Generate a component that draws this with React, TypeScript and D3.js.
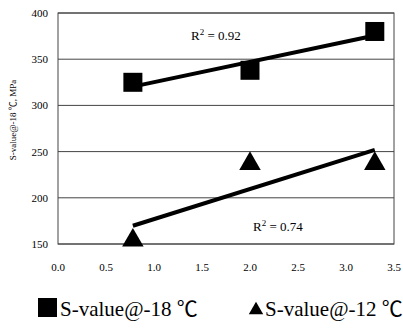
import React from 'react';
import * as d3 from 'd3';

const xValues = [0.78, 2.0, 3.3];
const s18 = [325, 338, 380];
const s12 = [155, 238, 238];
const xTicks = [0, 0.5, 1, 1.5, 2, 2.5, 3, 3.5];
const yTicks = [150, 200, 250, 300, 350, 400];

const W = 403, H = 328;
const m = { left: 58, right: 9, top: 13, bottom: 84 };
const serif = '"Liberation Serif", "Noto Sans CJK SC", serif';

function fit(xs: number[], ys: number[]) {
  const mx = d3.mean(xs)!, my = d3.mean(ys)!;
  let sxy = 0, sxx = 0;
  xs.forEach((x, i) => { sxy += (x - mx) * (ys[i] - my); sxx += (x - mx) ** 2; });
  const b = sxy / sxx;
  return (x: number) => my + b * (x - mx);
}

export default function App() {
  const x = d3.scaleLinear().domain([0, 3.5]).range([m.left, W - m.right]);
  const y = d3.scaleLinear().domain([150, 400]).range([H - m.bottom, m.top]);
  const f18 = fit(xValues, s18);
  const f12 = fit(xValues, s12);
  const x0 = d3.min(xValues)!, x1 = d3.max(xValues)!;
  const tri = d3.symbol().type(d3.symbolTriangle).size(200)()!;

  return (
    <svg width={W} height={H} style={{ position: 'absolute', left: 0, top: 0, background: '#fff' }}>
      {yTicks.map(t => (
        <g key={t}>
          <line x1={x.range()[0]} x2={x.range()[1]} y1={y(t)} y2={y(t)} stroke="#444" strokeWidth={1} />
          <text x={48} y={y(t) + 4} textAnchor="end" fontFamily={serif} fontSize={11}>{t}</text>
        </g>
      ))}
      <rect x={x.range()[0]} y={y(400)} width={x.range()[1] - x.range()[0]} height={y(150) - y(400)}
        fill="none" stroke="#444" strokeWidth={1} />
      {xTicks.map(t => (
        <text key={t} x={x(t)} y={271} textAnchor="middle" fontFamily={serif} fontSize={11}>{t.toFixed(1)}</text>
      ))}
      <text transform="translate(16,120) rotate(-90)" textAnchor="middle"
        fontFamily={serif} fontSize={9}>S-value@-18 ℃, MPa</text>

      <line x1={x(x0)} x2={x(x1)} y1={y(f18(x0))} y2={y(f18(x1))} stroke="#000" strokeWidth={4} />
      <line x1={x(x0)} x2={x(x1)} y1={y(f12(x0))} y2={y(f12(x1))} stroke="#000" strokeWidth={4} />

      {xValues.map((v, i) => (
        <rect key={'s' + i} x={x(v) - 9.5} y={y(s18[i]) - 9.5} width={19} height={19} fill="#000" />
      ))}
      {xValues.map((v, i) => (
        <path key={'t' + i} d={tri} transform={`translate(${x(v)},${y(s12[i]) + 1})`} fill="#000" />
      ))}

      <text x={191} y={40} fontFamily={serif} fontSize={13}>R<tspan dy={-5} fontSize={9}>2</tspan><tspan dy={5}> = 0.92</tspan></text>
      <text x={253} y={231} fontFamily={serif} fontSize={13}>R<tspan dy={-5} fontSize={9}>2</tspan><tspan dy={5}> = 0.74</tspan></text>

      <rect x={38} y={298} width={19} height={19} fill="#000" />
      <text x={60} y={316} fontFamily={serif} fontSize={21}>S-value@-18 ℃</text>
      <path d={d3.symbol().type(d3.symbolTriangle).size(90)()!} transform="translate(256,310)" fill="#000" />
      <text x={265} y={316} fontFamily={serif} fontSize={21}>S-value@-12 ℃</text>
    </svg>
  );
}
